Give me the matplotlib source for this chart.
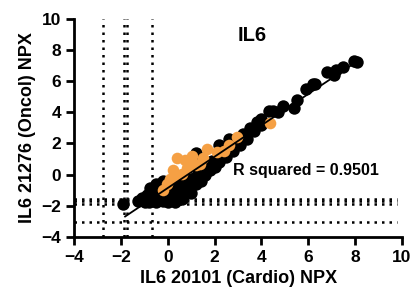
import matplotlib.pyplot as plt

plt.rcParams['font.family'] = ['Liberation Sans', 'DejaVu Sans']
plt.rcParams['font.weight'] = 'bold'

# black samples (Cardio NPX, Oncol NPX)
black_x = [-1.9, -1.3, -1.1, -1.0, -0.9, -0.8, -0.75, -0.7, -0.6, -0.5, -0.5, -0.4, -0.3,
           -0.2, -0.2, -0.1, 0.0, 0.1, 0.1, 0.2, 0.3, 0.35, 0.4, 0.5, 0.6, 0.7, 0.8, 0.9,
           1.0, 1.1, 1.2, 1.3, 1.4, 1.5, 1.6, 1.8, 1.9, 2.0, 2.2, 2.3, 2.5, 2.6, 2.8, 2.9,
           3.1, 3.2, 3.4, 3.5, 3.7, 3.8, 4.0, 4.0, 4.3, 4.5, 4.7, 4.9, 5.4, 5.5, 5.9, 6.2,
           6.3, 6.8, 7.1, 7.2, 7.5, 7.95, 8.1, 1.2, 2.2, 2.6]
black_y = [-1.88, -1.7, -1.5, -1.8, -1.3, -1.75, -0.9, -1.5, -1.1, -1.8, -0.6, -1.4, -0.9,
           -1.7, -0.4, -1.2, -1.8, -1.5, -0.7, -1.0, -1.75, -0.3, -1.3, -0.7, -1.6, -1.1,
           -0.3, -0.7, -1.2, -0.2, -0.6, 0.3, -0.4, 0.5, 0.0, 0.3, 0.9, 0.5, 0.8, 1.3, 1.1,
           1.7, 1.5, 2.1, 1.9, 2.6, 2.3, 3.0, 2.8, 3.4, 3.2, 3.6, 4.1, 4.1, 4.0, 4.4, 4.3,
           4.8, 5.5, 5.8, 5.8, 6.6, 6.4, 6.7, 6.9, 7.3, 7.25, 1.4, 1.9, 2.3]

# orange samples
orange_x = [-0.19, -0.04, 0.1, 0.24, 0.39, 0.6, 0.96, 1.03, 1.2, 1.38, 1.67, 2.1,
            2.38, 2.95, 4.38, 0.8, 0.2, 0.75, 1.5, 2.6]
orange_y = [-1.0, -0.6, -0.28, -0.1, 1.07, 0.04, 0.58, 1.22, 0.6, 0.69, 1.65, 1.43,
            1.5, 2.4, 3.3, 0.4, 0.3, 0.95, 1.05, 1.9]

# linear fit
fit_slope = 1.007
fit_intercept = -0.86
fit_x = [-1.83, 8.1]

# cut-off lines
vlines = [-2.76, -1.86, -1.73, -0.69]
hlines = [-1.56, -1.71, -1.88, -3.07]

fig = plt.figure(figsize=(4.13, 2.94), dpi=100)
ax = fig.add_axes([0.18, 0.195, 0.793, 0.74])

for v in vlines:
    ax.plot([v, v], [-4, 10], color='black', linestyle=(0, (1, 2)), lw=1.8, zorder=1)
for h in hlines:
    ax.plot([-4, 9.8], [h, h], color='black', linestyle=(0, (1, 2)), lw=1.8, zorder=1)

ax.scatter(black_x, black_y, s=80, color='black', zorder=2, linewidths=0)
ax.scatter(orange_x, orange_y, s=70, color='#F5A044', zorder=3, linewidths=0)
ax.plot(fit_x, [fit_slope * x + fit_intercept for x in fit_x], color='black', lw=1.3, zorder=4)

ax.set_xlim(-4, 10)
ax.set_ylim(-4, 10)
ax.set_xticks(range(-4, 11, 2))
ax.set_yticks(range(-4, 11, 2))
ax.spines['top'].set_visible(False)
ax.spines['right'].set_visible(False)
ax.spines['left'].set_linewidth(2)
ax.spines['bottom'].set_linewidth(2)
ax.tick_params(width=2, length=6, labelsize=12.5)
ax.set_xlabel('IL6 20101 (Cardio) NPX', fontsize=13, fontweight='bold')
ax.set_ylabel('IL6 21276 (Oncol) NPX', fontsize=13, fontweight='bold')
ax.text(3.0, 8.6, 'IL6', fontsize=14.5, fontweight='bold')
ax.text(2.8, 0.0, 'R squared = 0.9501', fontsize=11.5, fontweight='bold')

fig.savefig('out.png')
